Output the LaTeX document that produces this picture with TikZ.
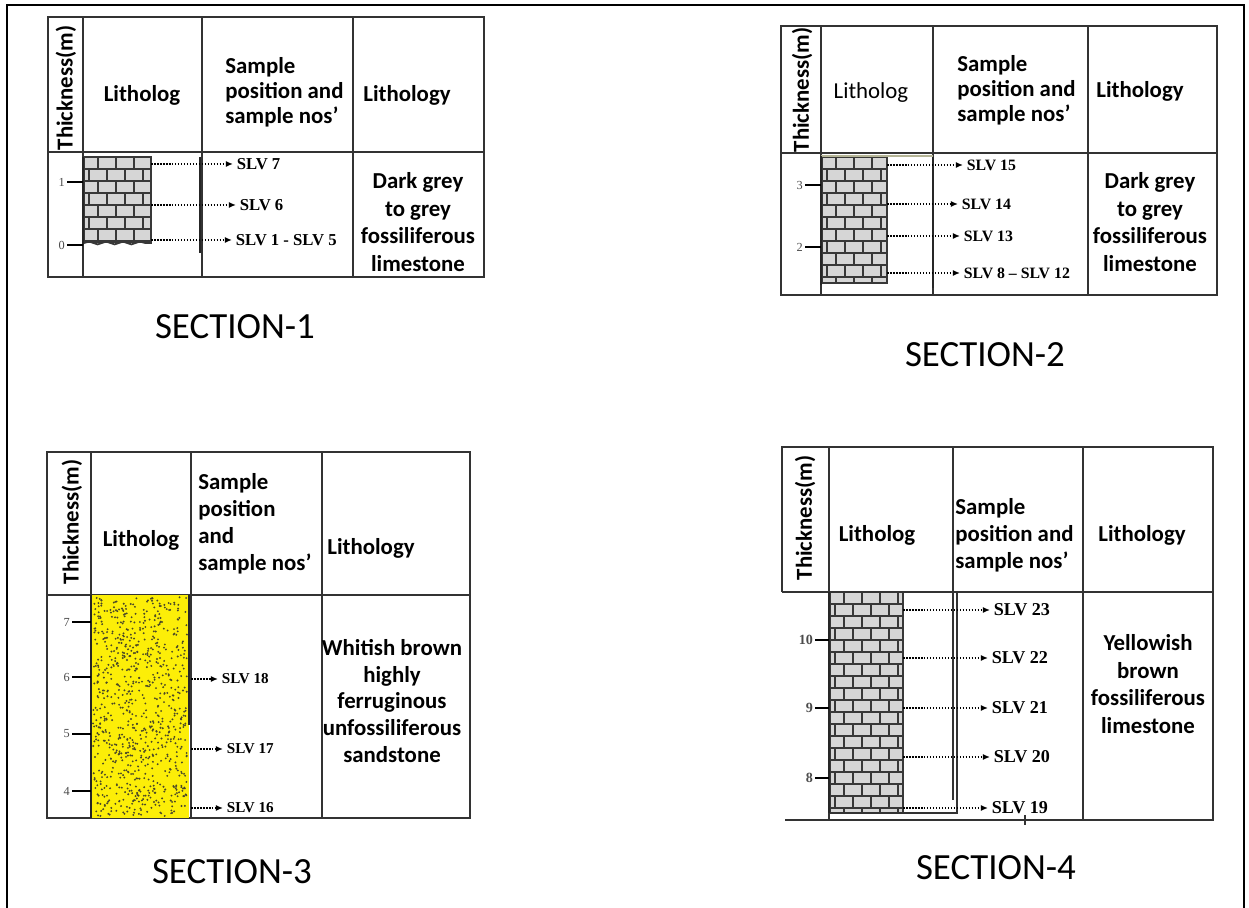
\documentclass[tikz,border=0pt]{standalone}
\usepackage{fontspec}
\setmainfont{Carlito}
\newfontfamily\slvfont{Liberation Serif}
\usetikzlibrary{arrows.meta,decorations.pathmorphing}
\definecolor{rule}{HTML}{333333}
\definecolor{brick}{HTML}{D6D6D6}
\definecolor{mortarc}{HTML}{383838}
\definecolor{sand}{HTML}{FCEE08}
\definecolor{grain}{HTML}{4A4828}
\definecolor{topband}{HTML}{B5B596}
\tikzset{
  mortar/.style={draw=mortarc, line width=1pt},
}
% limestone column: top-left x, y and bottom-right x, y
\newcommand{\bricks}[4]{%
  \begin{scope}
    \clip (#1,#2) rectangle (#3,#4);
    \fill[brick] (#1,#2) rectangle (#3,#4);
    \foreach \r in {0,...,19} {
      \draw[mortar] (#1,{#2+\r*12}) -- (#3,{#2+\r*12});
      \foreach \c in {0,...,5}
        \draw[mortar] ({#1+mod(\r,2)*9+\c*18-4},{#2+\r*12}) -- ++(0,12);
    }
  \end{scope}
  \draw[mortar] (#1,#2) rectangle (#3,#4);
}
% sandstone column with scattered grains
\newcommand{\sandstone}[4]{%
  \fill[sand] (#1,#2) rectangle (#3,#4);
  \pgfmathsetseed{31}
  \foreach \i in {1,...,850}
    \fill[grain] ({#1+2+rnd*(#3-#1-4)},{#2+2+rnd*(#4-#2-4)}) circle (0.6pt);
}

\begin{document}
\begin{tikzpicture}[x=0.02cm, y=-0.02cm,
  cell/.style={draw=rule, line width=0.7pt},
  edge/.style={draw=black!85, line width=1.6pt},
  head/.style={font=\bfseries\fontsize{13}{14.2}\selectfont, align=left, inner sep=0pt},
  thk/.style={head, rotate=90},
  litho/.style={font=\bfseries\fontsize{13}{15.6}\selectfont, align=center, inner sep=0pt},
  slv/.style={font=\slvfont\bfseries\fontsize{9.5}{11}\selectfont, inner sep=2pt, anchor=west},
  sample/.style={dash pattern=on 0.9pt off 0.8pt, line width=0.9pt, -{Latex[length=4pt,width=3.4pt]}},
  tick/.style={line width=0.9pt},
  ticklab/.style={font=\slvfont\fontsize{7}{8}\selectfont, text=black!70, inner sep=1pt, anchor=east},
  sect/.style={font=\fontsize{21}{25}\selectfont}]
\useasboundingbox (0,0) rectangle (1249,908);
\draw[line width=1.1pt] (7,908) -- (7,5) -- (1244,5) -- (1244,908);

% section 1
\draw[cell] (48,17) rectangle (484,277);
\draw[cell] (48,152) -- (484,152) (83,17) -- (83,277) (202,17) -- (202,277) (353,17) -- (353,277);
\node (t1) [thk] at (66,88) {Thickness(m)};
\node (h1) [head] at (142,95) {Litholog};
\node (s1) [head, anchor=west] at (225,92) {Sample\\position and\\sample nos’};
\node (l1) [head, anchor=west] at (363,95) {Lithology};
\bricks{84}{157}{151}{243}
\fill[white] (84,243) rectangle (151,247);
\draw[mortar, decorate, decoration={snake, amplitude=0.8pt, segment length=9.6pt}] (84,243) -- (151,243);
\draw[edge] (83,157) -- (83,245);
\draw[edge, line width=1.3pt] (200,157) -- (200,253);
\foreach \v/\y in {1/182, 0/245} {
  \coordinate (k\v) at (83,\y);
  \node (m\v) [ticklab] at (67,\y) {\v};
  \draw[tick] (m\v) -- (k\v);
}
\foreach \n/\y/\x/\t in {7/164/233/SLV 7, 6/205/236/SLV 6, 1/240/232/SLV 1 - SLV 5} {
  \coordinate (p\n) at (151,\y);
  \node (slv\n) [slv] at (\x,\y) {\t};
  \draw[sample] (p\n) -- (slv\n);
}
\node (d1) [litho] at (418,222) {Dark grey\\to grey\\fossiliferous\\limestone};
\node (n1) [sect] at (235,327) {SECTION-1};

% section 2
\draw[cell] (781,26) rectangle (1217,295);
\draw[cell] (781,153) -- (1217,153) (821,26) -- (821,295) (933,26) -- (933,295) (1088,26) -- (1088,295);
\node (t2) [thk] at (802,90) {Thickness(m)};
\node (h2) [head, font=\fontsize{13}{14.2}\selectfont] at (871,93) {Litholog};
\node (s2) [head, anchor=west] at (957,90) {Sample\\position and\\sample nos’};
\node (l2) [head, anchor=west] at (1096,91) {Lithology};
\bricks{822}{157}{887}{283}
\draw[topband, line width=1.6pt] (821,156) -- (933,156);
\draw[edge] (821,156) -- (821,285);
\draw[edge, line width=1.2pt] (933,157) -- (933,288);
\foreach \v/\y in {3/185, 2/247} {
  \coordinate (k\v) at (821,\y);
  \node (m\v) [ticklab] at (805,\y) {\v};
  \draw[tick] (m\v) -- (k\v);
}
\foreach \n/\y/\x/\t in {15/165/963/SLV 15, 14/204/958/SLV 14, 13/236/960/SLV 13, 8/273/960/SLV 8 – SLV 12} {
  \coordinate (p\n) at (887,\y);
  \node (slv\n) [slv, font=\slvfont\bfseries\fontsize{9}{11}\selectfont] at (\x,\y) {\t};
  \draw[sample] (p\n) -- (slv\n);
}
\node (d2) [litho] at (1150,222) {Dark grey\\to grey\\fossiliferous\\limestone};
\node (n2) [sect] at (985,355) {SECTION-2};

% section 3
\draw[cell] (47,452) rectangle (470,818);
\draw[cell] (47,595) -- (470,595) (91,452) -- (91,818) (191,452) -- (191,818) (322,452) -- (322,818);
\node (t3) [thk] at (72,522) {Thickness(m)};
\node (h3) [head] at (141,540) {Litholog};
\node (s3) [head, anchor=west, font=\bfseries\fontsize{13}{15.3}\selectfont] at (198,524) {Sample\\position\\and\\sample nos’};
\node (l3) [head, anchor=west] at (327,548) {Lithology};
\sandstone{91}{595}{189}{818}
\draw[edge] (91,595) -- (91,818);
\draw[edge] (189,595) -- (189,725);
\foreach \v/\y in {7/622, 6/677, 5/734, 4/791} {
  \coordinate (k\v) at (91,\y);
  \node (m\v) [ticklab] at (72,\y) {\v};
  \draw[tick] (m\v) -- (k\v);
}
\foreach \n/\y/\x/\t in {18/679/218/SLV 18, 17/749/223/SLV 17, 16/808/223/SLV 16} {
  \coordinate (p\n) at (191,\y);
  \node (slv\n) [slv, font=\slvfont\bfseries\fontsize{8.6}{10}\selectfont] at (\x,\y) {\t};
  \draw[sample] (p\n) -- (slv\n);
}
\node (d3) [litho, font=\bfseries\fontsize{13}{15.1}\selectfont] at (392,701) {Whitish brown\\highly\\ferruginous\\unfossiliferous\\sandstone};
\node (n3) [sect] at (232,872) {SECTION-3};

% section 4
\draw[cell] (782,592) -- (782,447) -- (1213,447) -- (1213,820) -- (785,820);
\draw[cell] (782,592) -- (1213,592) (829,447) -- (829,820) (953,447) -- (953,592) (1083,447) -- (1083,820);
\draw[cell] (1025,815) -- (1025,825);
\node (t4) [thk] at (805,518) {Thickness(m)};
\node (h4) [head] at (877,535) {Litholog};
\node (s4) [head, anchor=west, font=\bfseries\fontsize{13}{15.3}\selectfont] at (955,535) {Sample\\position and\\sample nos’};
\node (l4) [head, anchor=west] at (1098,535) {Lithology};
\bricks{830}{592}{903}{813}
\draw[cell] (829,592) rectangle (957,813);
\draw[cell] (953,592) -- (953,800);
\draw[edge] (829,592) -- (829,813);
\foreach \v/\y in {10/640, 9/708, 8/778} {
  \coordinate (k\v) at (829,\y);
  \node (m\v) [ticklab, font=\slvfont\bfseries\fontsize{8}{9}\selectfont] at (815,\y) {\v};
  \draw[tick] (m\v) -- (k\v);
}
\foreach \n/\y/\x/\t in {23/610/990/SLV 23, 22/658/988/SLV 22, 21/708/988/SLV 21, 20/757/990/SLV 20, 19/808/988/SLV 19} {
  \coordinate (p\n) at (903,\y);
  \node (slv\n) [slv, font=\slvfont\bfseries\fontsize{10.3}{12}\selectfont] at (\x,\y) {\t};
  \draw[sample] (p\n) -- (slv\n);
}
\node (d4) [litho, font=\bfseries\fontsize{13}{15.7}\selectfont] at (1148,684) {Yellowish\\brown\\fossiliferous\\limestone};
\node (n4) [sect] at (996,868) {SECTION-4};
\end{tikzpicture}
\end{document}
